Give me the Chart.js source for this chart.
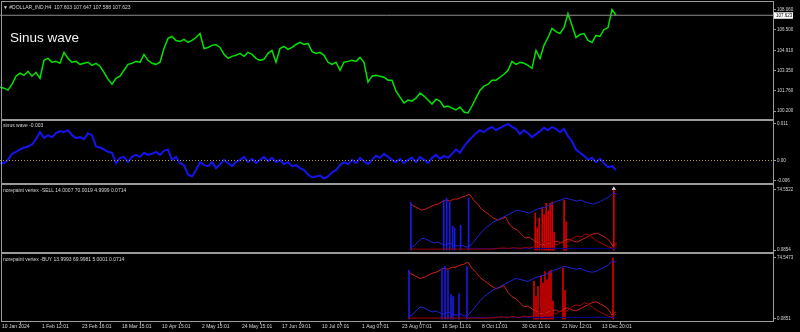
<!DOCTYPE html>
<html>
<head>
<meta charset="utf-8">
<script src="https://cdn.jsdelivr.net/npm/chart.js@4.4.1/dist/chart.umd.min.js"></script>
<style>
  html, body { margin: 0; padding: 0; background: #000; width: 800px; height: 332px; overflow: hidden; }
  canvas { position: absolute; left: 0; }
  .frame { position: absolute; left: 1px; width: 773px; box-sizing: border-box; border: 1px solid #9a9a9a; pointer-events: none; }
  .txt { position: absolute; font-family: 'Liberation Sans', Arial, sans-serif; color: #d6d6d6; white-space: nowrap; line-height: 1; }
</style>
</head>
<body>
<canvas id="priceChart" width="800" height="124" style="top:0"></canvas>
<canvas id="sinusChart" width="800" height="72" style="top:116px"></canvas>
<canvas id="sellChart" width="800" height="76" style="top:181px"></canvas>
<canvas id="buyChart" width="800" height="82" style="top:250px"></canvas>

<div class="frame" style="top:1px;height:119px"></div>
<div class="frame" style="top:120px;height:64px"></div>
<div class="frame" style="top:184px;height:69px"></div>
<div class="frame" style="top:253px;height:69px"></div>

<div class="txt" style="left:3px;top:5px;font-size:5px">&#9660; #DOLLAR_IND,H4&nbsp; 107.603 107.647 107.588 107.623</div>
<div class="txt" style="left:10px;top:31px;font-size:13.5px;color:#f2f2f2">Sinus wave</div>
<div class="txt" style="left:3px;top:123px;font-size:5px">sinus wave -0.003</div>
<div class="txt" style="left:3px;top:188px;font-size:5px">norepaint vertex -SELL 14.0007 70.0019 4.9999 0.0714</div>
<div class="txt" style="left:3px;top:257px;font-size:5px">norepaint vertex -BUY 13.9993 69.9981 5.0001 0.0714</div>

<script>
// one index step = 4 px of plot, plot is 773 px wide
const X_MAX = 193.25;

const timeLabels = ['10 Jan 2024', '1 Feb 12:01', '23 Feb 16:01', '18 Mar 15:01', '10 Apr 15:01', '2 May 15:01',
  '24 May 15:01', '17 Jun 19:01', '10 Jul 07:01', '1 Aug 07:01', '23 Aug 07:01', '16 Sep 11:01',
  '8 Oct 11:01', '30 Oct 11:01', '21 Nov 12:01', '13 Dec 20:01'];
const timeTickIdx = [0, 10, 20, 30, 40, 50, 60, 70, 80, 90, 100, 110, 120, 130, 140, 150];

const priceTicks = [108.06, 106.5, 104.91, 103.35, 101.76, 100.2];
const lastPrice = 107.623;
const priceValues = [
  102.05, 101.97, 101.82, 102.28, 102.90, 103.13, 102.97, 103.28, 102.90, 103.20,
  102.74, 104.13, 104.28, 103.98, 104.05, 103.90, 104.75, 104.28, 103.98, 104.05,
  103.82, 103.90, 103.98, 103.74, 103.90, 103.67, 103.20, 102.67, 102.28, 102.74,
  102.90, 103.36, 103.82, 103.90, 104.05, 103.98, 104.59, 104.13, 103.90, 103.82,
  103.98, 105.05, 105.83, 105.98, 105.67, 105.60, 105.75, 105.52, 105.67, 105.90,
  106.21, 105.05, 105.13, 105.29, 105.36, 105.13, 104.59, 104.28, 104.44, 104.52,
  104.67, 104.44, 104.75, 104.59, 104.28, 104.13, 104.21, 104.67, 104.90, 103.98,
  105.05, 105.21, 104.98, 105.13, 105.36, 105.52, 105.36, 105.44, 104.82, 104.67,
  104.75, 104.52, 103.98, 103.82, 103.98, 103.36, 103.98, 104.05, 104.13, 104.05,
  104.36, 103.98, 102.44, 102.90, 102.97, 102.90, 102.82, 102.59, 102.59, 101.74,
  101.28, 100.82, 101.05, 100.97, 101.20, 101.59, 101.36, 101.05, 100.74, 101.12,
  100.97, 100.51, 100.59, 100.43, 100.28, 100.51, 100.12, 100.05, 100.59, 101.20,
  101.82, 102.13, 102.28, 102.59, 102.59, 102.82, 103.05, 103.36, 104.05, 103.82,
  103.98, 103.90, 103.74, 103.51, 104.90, 104.28, 105.29, 105.90, 106.60, 106.36,
  106.21, 106.67, 107.75, 106.83, 105.90, 106.13, 106.21, 105.67, 105.52, 106.06,
  105.98, 106.52, 106.67, 108.06, 107.623
];

const sinusTicks = [0.011, 0, -0.006];
const sinusTickLabels = ['0.011', '0.00', '-0.006'];
const sinusValues = [
  -0.0008, -0.0008, 0.0002, 0.0020, 0.0026, 0.0033, 0.0039, 0.0042, 0.0048, 0.0064,
  0.0085, 0.0067, 0.0076, 0.0070, 0.0082, 0.0088, 0.0085, 0.0091, 0.0076, 0.0067,
  0.0070, 0.0064, 0.0082, 0.0076, 0.0042, 0.0039, 0.0033, 0.0026, 0.0023, -0.0008,
  0.0008, 0.0011, -0.0005, 0.0011, 0.0017, 0.0011, 0.0023, 0.0017, 0.0020, 0.0026,
  0.0017, 0.0029, 0.0033, 0.0002, 0.0011, -0.0008, -0.0014, -0.0042, -0.0048, -0.0029,
  -0.0005, -0.0014, -0.0017, -0.0005, -0.0023, -0.0011, 0.0002, -0.0008, -0.0017, -0.0005,
  0.0002, 0.0011, -0.0005, 0.0005, -0.0008, 0.0002, 0.0011, -0.0002, 0.0008, -0.0005,
  0.0002, -0.0011, -0.0005, -0.0017, -0.0014, -0.0023, -0.0029, -0.0042, -0.0051, -0.0048,
  -0.0045, -0.0054, -0.0048, -0.0036, -0.0029, -0.0014, -0.0005, -0.0011, 0.0002, -0.0008,
  0.0008, -0.0002, -0.0011, 0.0002, 0.0014, 0.0008, 0.0020, 0.0011, 0.0002, -0.0005,
  0.0005, -0.0008, 0.0002, 0.0008, -0.0005, 0.0011, 0.0002, -0.0008, 0.0008, 0.0017,
  0.0005, 0.0014, 0.0008, 0.0020, 0.0033, 0.0023, 0.0042, 0.0057, 0.0070, 0.0082,
  0.0091, 0.0085, 0.0095, 0.0101, 0.0091, 0.0098, 0.0104, 0.0110, 0.0101, 0.0095,
  0.0079, 0.0091, 0.0082, 0.0070, 0.0079, 0.0088, 0.0098, 0.0091, 0.0101, 0.0095,
  0.0085, 0.0095, 0.0073, 0.0057, 0.0033, 0.0023, 0.0014, 0.0002, 0.0008, -0.0005,
  0.0005, -0.0008, -0.0020, -0.0017, -0.0029
];

// vertex panels: lines start at index 102
const vertexStart = 102;
const sellTicks = [74.5522, 0.0854];
const buyTicks = [74.5473, 0.0851];
const vertexRedUpper = [
  58.3, 54.6, 52.1, 49.6, 50.9, 53.4, 55.8, 57.1, 59.6, 62.1,
  60.8, 63.3, 63.3, 65.8, 67.0, 69.5, 62.1, 57.1, 50.9, 47.2,
  43.4, 39.7, 37.2, 38.5, 41.0, 32.3, 27.3, 24.8, 19.9, 14.9,
  16.1, 12.4, 9.9, 6.2, 7.4, 8.7, 9.9, 11.2, 8.7, 12.4,
  13.7, 11.2, 9.9, 12.4, 14.9, 17.4, 19.9, 21.1, 18.6, 16.1,
  12.4, 5.0, 8.7
];
const vertexBlueLine = [
  2.5, 4.9, 9.9, 14.9, 13.7, 11.2, 8.7, 9.9, 7.4, 6.2,
  8.7, 6.2, 4.9, 6.2, 3.7, 4.9, 9.9, 16.1, 22.3, 27.3,
  31.0, 34.7, 37.2, 39.7, 42.2, 44.7, 47.2, 49.6, 48.4, 47.2,
  45.9, 48.4, 50.9, 52.1, 53.4, 55.8, 58.3, 60.8, 62.1, 64.5,
  63.3, 62.1, 60.8, 62.1, 59.6, 58.3, 57.1, 58.3, 60.8, 63.3,
  65.8, 70.7, 69.5
];
const vertexRedLow = [
  1.2, 1.2, 1.2, 1.2, 1.2, 1.2, 1.2, 1.2, 1.2, 1.2,
  1.2, 1.2, 1.2, 1.2, 1.2, 1.2, 1.2, 1.2, 1.2, 1.2,
  1.2, 1.5, 2.0, 2.5, 2.5, 2.0, 3.0, 2.5, 2.0, 3.7,
  2.5, 3.7, 6.2, 9.9, 7.4, 11.2, 8.7, 6.2, 9.9, 7.4,
  11.2, 14.9, 17.4, 16.1, 19.9, 18.6, 14.9, 11.2, 8.7, 6.2,
  3.7, 2.5, 6.2
];
const vertexBlueBase = [
  null, null, null, null, null, null, null, null, null, null,
  null, null, null, null, null, 2.0, 2.2, 2.0, 1.8, 2.0,
  2.2, 2.0, 2.0, 1.8, 2.0, 2.2, 2.0, 2.0, 1.8, 2.0,
  2.2, 2.0, 2.0, 1.8, 2.0, 2.0, 2.2, 2.0, 1.8, 2.0,
  2.0, 2.2, 2.0, 2.0, 1.8, 2.0, 2.0, 2.2, 2.0, 1.8,
  2.0, 2.0, 2.2
];
const redSpikeIdx = [133.5, 134, 134.5, 135.25, 135.75, 136.25, 136.75, 137.25, 137.75, 138.25, 140.75, 141.25, 153.25];
const redSpikeValues = [46, 28, 40, 53, 44, 58, 48, 58, 59.6, 22, 62, 35, 74.5];
const blueSpikeIdx = [102.25, 110.5, 111.25, 112, 112.75, 113.25, 114.75, 116.75];
const blueSpikeValues = [59.6, 62.1, 64.5, 59.6, 29.8, 27.3, 31.0, 64.5];
const signalIdx = [153.25];
const signalValues = [76];

Chart.defaults.animation = false;
Chart.defaults.font.family = "'Liberation Sans', Arial, sans-serif";
Chart.defaults.color = '#c8c8c8';

function series(start, vals) {
  return vals.map((v, i) => ({ x: start + i, y: v }));
}
function pairs(xs, ys) {
  return xs.map((x, i) => ({ x: x, y: ys[i] }));
}
function lineSet(data, color, width, extra) {
  return Object.assign({ type: 'line', data: data, borderColor: color, borderWidth: width, pointRadius: 0, tension: 0 }, extra || {});
}
function spikeSet(data, color, thickness) {
  return { type: 'bar', data: data, backgroundColor: color, barThickness: thickness, grouped: false, borderWidth: 0 };
}
function flatLine(value) {
  return [{ x: 0, y: value }, { x: X_MAX, y: value }];
}

const lastPriceBox = {
  id: 'lastPriceBox',
  afterDraw(chart) {
    const ctx = chart.ctx;
    const y = chart.scales.y.getPixelForValue(lastPrice);
    const x = chart.chartArea.right;
    ctx.save();
    ctx.fillStyle = '#ffffff';
    ctx.fillRect(x + 1, y - 3, 19, 6.5);
    ctx.fillStyle = '#000000';
    ctx.font = "4.5px 'Liberation Sans', Arial, sans-serif";
    ctx.textBaseline = 'middle';
    ctx.fillText(lastPrice.toFixed(3), x + 3, y + 0.5);
    ctx.restore();
  }
};

function makePanel(id, datasets, o) {
  const xScale = {
    type: 'linear', min: 0, max: X_MAX, offset: false,
    display: !!o.timeAxis,
    grid: { drawOnChartArea: false, drawTicks: true, tickLength: 3, color: '#9a9a9a' },
    border: { display: false },
    ticks: {
      font: { size: 5 }, color: '#d6d6d6', align: 'start', labelOffset: 2, padding: 0,
      autoSkip: false, maxRotation: 0,
      callback: (v, i) => timeLabels[i]
    },
    afterBuildTicks: s => { s.ticks = timeTickIdx.map(v => ({ value: v })); }
  };
  if (o.timeAxis) xScale.afterFit = s => { s.height = 11; };

  return new Chart(document.getElementById(id), {
    type: 'line',
    data: { datasets: datasets },
    options: {
      responsive: false,
      devicePixelRatio: 1,
      layout: { padding: { top: o.padTop, bottom: o.padBottom, left: 0, right: 0 } },
      plugins: { legend: { display: false }, tooltip: { enabled: false } },
      scales: {
        x: xScale,
        y: {
          position: 'right', min: o.min, max: o.max,
          grid: { drawOnChartArea: false, drawTicks: true, tickLength: 3, color: '#9a9a9a' },
          border: { display: false },
          ticks: { font: { size: 4.5 }, color: '#d6d6d6', padding: 1, autoSkip: false, callback: (v, i) => o.labels[i] },
          afterBuildTicks: s => { s.ticks = o.ticks.map(v => ({ value: v })); },
          afterFit: s => { s.width = 27; }
        }
      }
    },
    plugins: o.plugins || []
  });
}

// main price window
makePanel('priceChart', [
  lineSet(flatLine(lastPrice), '#8c8c8c', 1),
  lineSet(series(0, priceValues), '#00e400', 1.5)
], {
  min: 99.66, max: 108.52, padTop: 3, padBottom: 6,
  ticks: priceTicks, labels: priceTicks.map(v => v.toFixed(3)),
  plugins: [lastPriceBox]
});

// sinus wave window
makePanel('sinusChart', [
  lineSet(flatLine(0), '#b8a038', 1, { borderDash: [1, 2] }),
  lineSet(series(0, sinusValues), '#1414ee', 2)
], {
  min: -0.00675, max: 0.01185, padTop: 5, padBottom: 5,
  ticks: sinusTicks, labels: sinusTickLabels
});

function vertexSets(withSignal) {
  const sets = [
    lineSet(series(vertexStart, vertexRedLow), '#a00000', 1),
    lineSet(series(vertexStart, vertexBlueBase), '#000090', 1),
    spikeSet(pairs(blueSpikeIdx, blueSpikeValues), '#1a1ae0', 1),
    lineSet(series(vertexStart, vertexBlueLine), '#2020d8', 1),
    lineSet(series(vertexStart, vertexRedUpper), '#d01c1c', 1),
    spikeSet(pairs(redSpikeIdx, redSpikeValues), '#d80000', 1)
  ];
  if (withSignal) {
    sets.push({ type: 'scatter', data: pairs(signalIdx, signalValues), pointStyle: 'triangle', pointRadius: 2.5, backgroundColor: '#e4d8ff', borderWidth: 0 });
  }
  return sets;
}

makePanel('sellChart', vertexSets(true), {
  min: -2.39, max: 79.5, padTop: 5, padBottom: 5,
  ticks: sellTicks, labels: sellTicks.map(v => v.toFixed(4))
});

makePanel('buyChart', vertexSets(false), {
  min: -2.36, max: 78.2, padTop: 5, padBottom: 0, timeAxis: true,
  ticks: buyTicks, labels: buyTicks.map(v => v.toFixed(4))
});
</script>
</body>
</html>
